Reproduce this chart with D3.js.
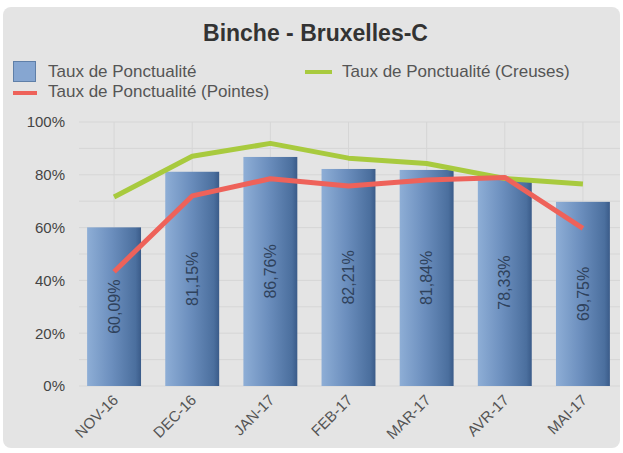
<!DOCTYPE html>
<html>
<head>
<meta charset="utf-8">
<script src="https://cdn.jsdelivr.net/npm/d3@7"></script>
<style>
  body { margin: 0; background: #fff; }
  svg { display: block; font-family: "Liberation Sans", Arial, sans-serif; }
</style>
</head>
<body>
<svg id="chart" width="623" height="453"></svg>
<script>
// données
const months = ["NOV-16", "DEC-16", "JAN-17", "FEB-17", "MAR-17", "AVR-17", "MAI-17"];
const ponctualite = [60.09, 81.15, 86.76, 82.21, 81.84, 78.33, 69.75];
const creuses = [71.6, 87.0, 91.9, 86.3, 84.3, 78.6, 76.5];
const pointes = [43.3, 72.0, 78.5, 75.8, 78.0, 79.0, 59.7];
const yTicks = [0, 20, 40, 60, 80, 100];

const svg = d3.select("#chart");

const plotTop = 122, plotBottom = 386, plotLeft = 75, plotRight = 622;

// fond gris du panneau
svg.append("rect")
    .attr("x", 3).attr("y", 7)
    .attr("width", 617).attr("height", 441)
    .attr("rx", 8)
    .attr("fill", "#e4e4e4");

// dégradé des barres
const defs = svg.append("defs");
const grad = defs.append("linearGradient")
    .attr("id", "barGrad")
    .attr("x1", "0%").attr("x2", "100%")
    .attr("y1", "0%").attr("y2", "0%");
grad.append("stop").attr("offset", "0%").attr("stop-color", "#8eaed6");
grad.append("stop").attr("offset", "45%").attr("stop-color", "#6c8fbe");
grad.append("stop").attr("offset", "90%").attr("stop-color", "#4b6f9e");
grad.append("stop").attr("offset", "100%").attr("stop-color", "#3a5b89");

const x = d3.scaleBand()
    .domain(months)
    .range([plotLeft, plotRight])
    .paddingInner(0.31)
    .paddingOuter(0.155);

const y = d3.scaleLinear()
    .domain([0, 100])
    .range([plotBottom, plotTop]);

// grille
const grid = svg.append("g");
grid.selectAll("line.h")
    .data(d3.range(0, 101, 10))
    .enter().append("line")
    .attr("x1", 79).attr("x2", 620)
    .attr("y1", d => y(d)).attr("y2", d => y(d))
    .attr("stroke", "#d6d6d6")
    .attr("stroke-width", 1);
grid.selectAll("line.v")
    .data(months)
    .enter().append("line")
    .attr("x1", d => x(d) + x.bandwidth() / 2)
    .attr("x2", d => x(d) + x.bandwidth() / 2)
    .attr("y1", plotTop).attr("y2", plotBottom)
    .attr("stroke", "#d6d6d6")
    .attr("stroke-width", 1);

// axe Y
const yAxis = d3.axisLeft(y)
    .tickValues(yTicks)
    .tickFormat(d => d + "%")
    .tickSize(0)
    .tickPadding(0);
const gy = svg.append("g")
    .attr("transform", "translate(65,0)")
    .call(yAxis);
gy.select(".domain").remove();
gy.selectAll("text")
    .attr("fill", "#444")
    .style("font-size", "15px")
    .style("font-family", "'Liberation Sans', Arial, sans-serif");

// barres
svg.append("g")
    .selectAll("rect")
    .data(ponctualite)
    .enter().append("rect")
    .attr("x", (d, i) => x(months[i]))
    .attr("y", d => y(d))
    .attr("width", x.bandwidth())
    .attr("height", d => y(0) - y(d))
    .attr("fill", "url(#barGrad)");

// étiquettes des barres
svg.append("g")
    .selectAll("text")
    .data(ponctualite)
    .enter().append("text")
    .attr("transform", (d, i) => {
        const cx = x(months[i]) + x.bandwidth() / 2;
        const cy = (y(d) + y(0)) / 2;
        return "translate(" + cx + "," + cy + ") rotate(-90)";
    })
    .attr("text-anchor", "middle")
    .attr("dy", "0.35em")
    .attr("fill", "#2f425c")
    .style("font-size", "16px")
    .text(d => d.toFixed(2).replace(".", ",") + "%");

// lignes
const line = d3.line()
    .x((d, i) => x(months[i]) + x.bandwidth() / 2)
    .y(d => y(d));

svg.append("path")
    .datum(creuses)
    .attr("d", line)
    .attr("fill", "none")
    .attr("stroke", "#a8ca3e")
    .attr("stroke-width", 5)
    .attr("stroke-linejoin", "round");

svg.append("path")
    .datum(pointes)
    .attr("d", line)
    .attr("fill", "none")
    .attr("stroke", "#ee625a")
    .attr("stroke-width", 5)
    .attr("stroke-linejoin", "round");

// axe X
svg.append("g")
    .selectAll("text")
    .data(months)
    .enter().append("text")
    .attr("transform", d => "translate(" + (x(d) + x.bandwidth() / 2 + 5) + "," + (plotBottom + 15) + ") rotate(-45)")
    .attr("text-anchor", "end")
    .attr("fill", "#555")
    .style("font-size", "15px")
    .text(d => d);

// titre
svg.append("text")
    .attr("x", 315.5)
    .attr("y", 41)
    .attr("text-anchor", "middle")
    .attr("fill", "#333")
    .style("font-size", "23px")
    .style("font-weight", "bold")
    .text("Binche - Bruxelles-C");

// légende
const legend = svg.append("g").style("font-size", "17px").attr("fill", "#555");
legend.append("rect")
    .attr("x", 13.5).attr("y", 61.5)
    .attr("width", 22).attr("height", 20)
    .attr("fill", "#86a6d1")
    .attr("stroke", "#5f7fa8");
legend.append("text").attr("x", 48).attr("y", 77).text("Taux de Ponctualité");

legend.append("line")
    .attr("x1", 13).attr("x2", 37)
    .attr("y1", 93).attr("y2", 93)
    .attr("stroke", "#ee625a").attr("stroke-width", 4);
legend.append("text").attr("x", 48).attr("y", 97).text("Taux de Ponctualité (Pointes)");

legend.append("line")
    .attr("x1", 305).attr("x2", 332)
    .attr("y1", 72).attr("y2", 72)
    .attr("stroke", "#a8ca3e").attr("stroke-width", 4);
legend.append("text").attr("x", 342).attr("y", 77).text("Taux de Ponctualité (Creuses)");
</script>
</body>
</html>
